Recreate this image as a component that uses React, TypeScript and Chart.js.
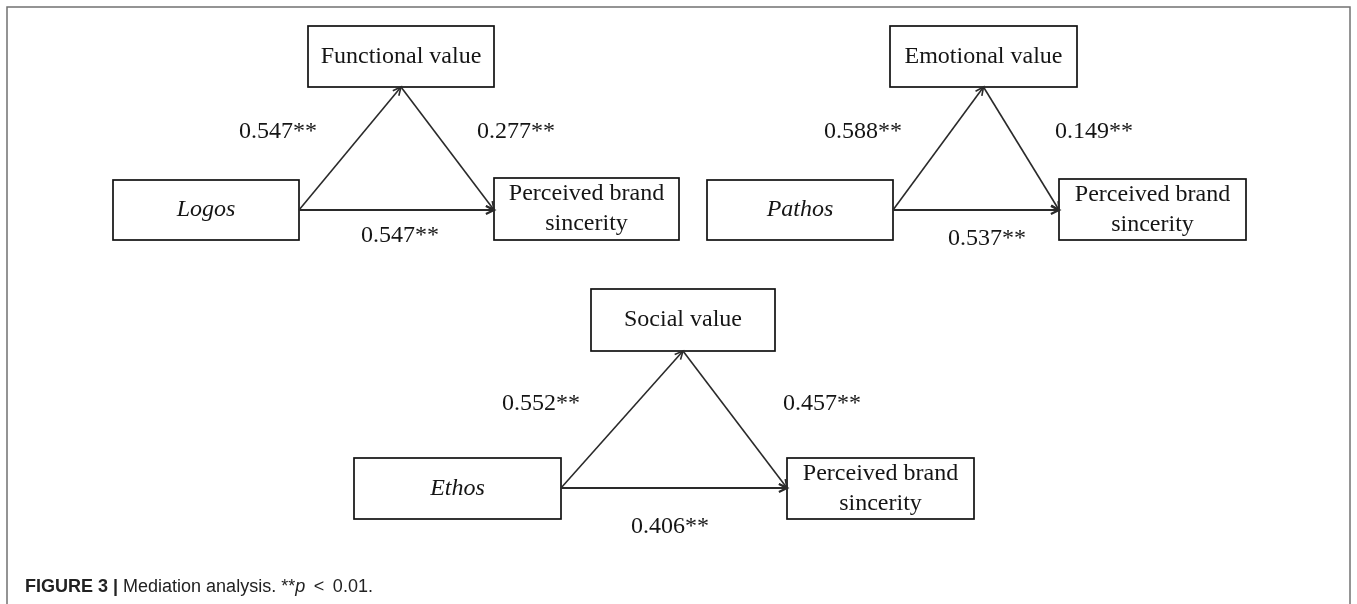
import React, { useEffect, useRef } from "react";
import { Chart, registerables } from "chart.js";

Chart.register(...registerables);

// ---- Data ----
const predictors = ["Logos", "Pathos", "Ethos"];
const mediators = ["Functional value", "Emotional value", "Social value"];
const outcomeLines = ["Perceived brand", "sincerity"];
const pathA = [0.547, 0.588, 0.552]; // predictor -> mediator
const pathB = [0.277, 0.149, 0.457]; // mediator -> outcome
const pathC = [0.547, 0.537, 0.406]; // predictor -> outcome
const stars = ["**", "**", "**"];

// ---- Layout (scale units = pixels of a 1357x604 page) ----
type Box = [number, number, number, number];
const layout: { m: Box; x: Box; y: Box; ay: number; la: [number, number]; lb: [number, number]; lc: [number, number] }[] = [
  { m: [308, 26, 494, 87], x: [113, 180, 299, 240], y: [494, 178, 679, 240], ay: 210, la: [278, 132], lb: [516, 132], lc: [400, 236] },
  { m: [890, 26, 1077, 87], x: [707, 180, 893, 240], y: [1059, 179, 1246, 240], ay: 210, la: [863, 132], lb: [1094, 132], lc: [987, 239] },
  { m: [591, 289, 775, 351], x: [354, 458, 561, 519], y: [787, 458, 974, 519], ay: 488, la: [541, 404], lb: [822, 404], lc: [670, 527] },
];

const W = 1357;
const H = 604;
const SERIF = '"Liberation Serif", "Times New Roman", serif';
const SANS = '"Liberation Sans", Arial, sans-serif';
const FS = 24;

const diagramPlugin = {
  id: "mediationDiagram",
  afterDraw(chart: any) {
    const ctx: CanvasRenderingContext2D = chart.ctx;
    const xs = chart.scales.x;
    const ys = chart.scales.y;
    const px = (v: number) => xs.getPixelForValue(v);
    const py = (v: number) => ys.getPixelForValue(v);

    ctx.save();
    // frame
    ctx.strokeStyle = "#727272";
    ctx.lineWidth = 1.5;
    ctx.strokeRect(px(7), py(7), px(1350) - px(7), py(640) - py(7));

    const drawBox = (b: Box) => {
      ctx.strokeStyle = "#111";
      ctx.lineWidth = 1.7;
      ctx.strokeRect(px(b[0]), py(b[1]), px(b[2]) - px(b[0]), py(b[3]) - py(b[1]));
    };
    const arrow = (x1: number, y1: number, x2: number, y2: number, lw: number) => {
      const X1 = px(x1), Y1 = py(y1), X2 = px(x2), Y2 = py(y2);
      ctx.strokeStyle = "#2a2a2a";
      ctx.lineWidth = lw;
      ctx.beginPath();
      ctx.moveTo(X1, Y1);
      ctx.lineTo(X2, Y2);
      ctx.stroke();
      const ang = Math.atan2(Y2 - Y1, X2 - X1);
      const L = 9;
      const sp = 0.45;
      ctx.beginPath();
      ctx.moveTo(X2 - L * Math.cos(ang - sp), Y2 - L * Math.sin(ang - sp));
      ctx.lineTo(X2, Y2);
      ctx.lineTo(X2 - L * Math.cos(ang + sp), Y2 - L * Math.sin(ang + sp));
      ctx.stroke();
    };
    const text = (s: string, x: number, y: number, font: string) => {
      ctx.font = font;
      ctx.fillStyle = "#151515";
      ctx.textAlign = "center";
      ctx.textBaseline = "middle";
      ctx.fillText(s, px(x), py(y));
    };

    layout.forEach((L, i) => {
      drawBox(L.m);
      drawBox(L.x);
      drawBox(L.y);
      const mcx = (L.m[0] + L.m[2]) / 2;
      arrow(L.x[2], L.ay, mcx, L.m[3], 1.6);
      arrow(mcx, L.m[3], L.y[0], L.ay, 1.6);
      arrow(L.x[2], L.ay, L.y[0], L.ay, 2.2);
      text(mediators[i], mcx, (L.m[1] + L.m[3]) / 2, `${FS}px ${SERIF}`);
      text(predictors[i], (L.x[0] + L.x[2]) / 2, (L.x[1] + L.x[3]) / 2, `italic ${FS}px ${SERIF}`);
      const ycx = (L.y[0] + L.y[2]) / 2;
      const ycy = (L.y[1] + L.y[3]) / 2;
      text(outcomeLines[0], ycx, ycy - 15, `${FS}px ${SERIF}`);
      text(outcomeLines[1], ycx, ycy + 15, `${FS}px ${SERIF}`);
      text(pathA[i].toFixed(3) + stars[i], L.la[0], L.la[1], `${FS}px ${SERIF}`);
      text(pathB[i].toFixed(3) + stars[i], L.lb[0], L.lb[1], `${FS}px ${SERIF}`);
      text(pathC[i].toFixed(3) + stars[i], L.lc[0], L.lc[1], `${FS}px ${SERIF}`);
    });

    // caption
    ctx.textAlign = "left";
    ctx.textBaseline = "alphabetic";
    ctx.fillStyle = "#222";
    let cx = px(25);
    const cy = py(592);
    const parts: [string, string][] = [
      ["FIGURE 3 |", `bold 18px ${SANS}`],
      [" Mediation analysis. **", `18px ${SANS}`],
      ["p", `italic 18px ${SANS}`],
      ["\u2009 < \u2009", `18px ${SANS}`],
      ["0.01.", `18px ${SANS}`],
    ];
    parts.forEach(([s, f]) => {
      ctx.font = f;
      ctx.fillText(s, cx, cy);
      cx += ctx.measureText(s).width;
    });
    ctx.restore();
  },
};

export default function App() {
  const ref = useRef<HTMLCanvasElement>(null);
  useEffect(() => {
    if (!ref.current) return;
    const chart = new Chart(ref.current, {
      type: "scatter",
      data: {
        datasets: [
          {
            label: "paths",
            data: layout.map((L) => ({ x: L.la[0], y: L.la[1] })),
            pointRadius: 0,
            showLine: false,
          },
        ],
      },
      options: {
        animation: false,
        responsive: false,
        devicePixelRatio: 1,
        layout: { padding: 0 },
        plugins: { legend: { display: false }, tooltip: { enabled: false }, title: { display: false } },
        events: [],
        scales: {
          x: { type: "linear", min: 0, max: W, display: false },
          y: { type: "linear", min: 0, max: H, reverse: true, display: false },
        },
      },
      plugins: [diagramPlugin],
    });
    return () => chart.destroy();
  }, []);
  return (
    <div style={{ position: "fixed", left: 0, top: 0, width: W, height: H, background: "#fff" }}>
      <canvas ref={ref} width={W} height={H} style={{ display: "block" }} />
    </div>
  );
}
